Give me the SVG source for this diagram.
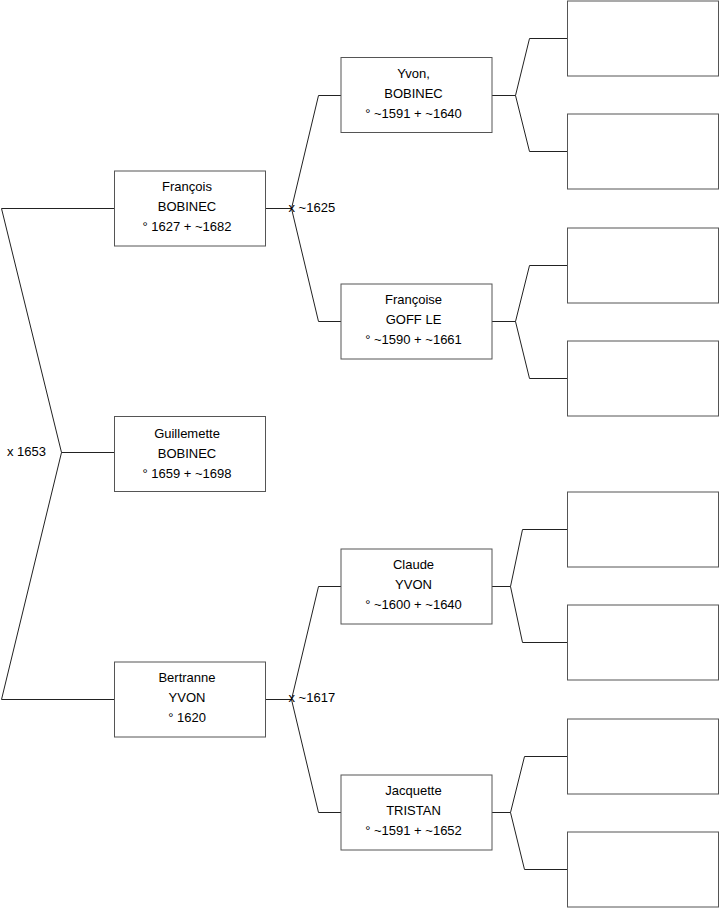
<svg xmlns="http://www.w3.org/2000/svg" width="719" height="908" viewBox="0 0 719 908">
<style>
.box{fill:#fff;stroke:#555;stroke-width:1}
.t{font-family:"Liberation Sans",Arial,sans-serif;font-size:13px;fill:#000;text-anchor:middle}
.l{font-family:"Liberation Sans",Arial,sans-serif;font-size:13px;fill:#000}
.c{fill:none;stroke:#222;stroke-width:1}
</style>
<rect width="719" height="908" fill="#fff"/>
<g id="connectors">
<polyline class="c" points="114,208.5 1.5,208.5 61.5,452.5 1.5,699.5 114,699.5"/>
<line class="c" x1="61.5" y1="452.5" x2="114" y2="452.5"/>
<polyline class="c" points="341,95.5 318.5,95.5 291.5,208.5 318.5,321.5 341,321.5"/>
<line class="c" x1="265.5" y1="208.5" x2="291.5" y2="208.5"/>
<polyline class="c" points="341,586.5 318.5,586.5 291.5,699.5 318.5,812.5 341,812.5"/>
<line class="c" x1="265.5" y1="699.5" x2="291.5" y2="699.5"/>
<polyline class="c" points="567,38.5 529.5,38.5 515.5,95.5 529.5,151.5 567,151.5"/>
<line class="c" x1="492" y1="95.5" x2="515.5" y2="95.5"/>
<polyline class="c" points="567,265.5 529.5,265.5 515.5,321.5 529.5,378.5 567,378.5"/>
<line class="c" x1="492" y1="321.5" x2="515.5" y2="321.5"/>
<polyline class="c" points="567,529.5 522.5,529.5 510.5,586.5 522.5,642.5 567,642.5"/>
<line class="c" x1="492" y1="586.5" x2="510.5" y2="586.5"/>
<polyline class="c" points="567,756.5 524.5,756.5 510.5,812.5 524.5,869.5 567,869.5"/>
<line class="c" x1="492" y1="812.5" x2="510.5" y2="812.5"/>
<text class="l" x="7" y="456">x 1653</text>
<text class="l" x="288.5" y="211.5">x ~1625</text>
<text class="l" x="288.5" y="702">x ~1617</text>
</g>
<g id="francois">
<rect class="box" x="114.5" y="171" width="151" height="75"/>
<text class="t" x="187" y="191">François</text>
<text class="t" x="187" y="211">BOBINEC</text>
<text class="t" x="187" y="231">° 1627 + ~1682</text>
</g>
<g id="guillemette">
<rect class="box" x="114.5" y="416.5" width="151" height="75"/>
<text class="t" x="187" y="437.5">Guillemette</text>
<text class="t" x="187" y="457.5">BOBINEC</text>
<text class="t" x="187" y="477.5">° 1659 + ~1698</text>
</g>
<g id="bertranne">
<rect class="box" x="114.5" y="662" width="151" height="75"/>
<text class="t" x="187" y="682">Bertranne</text>
<text class="t" x="187" y="702">YVON</text>
<text class="t" x="187" y="722">° 1620</text>
</g>
<g id="yvon">
<rect class="box" x="341" y="57.5" width="151" height="75"/>
<text class="t" x="413.5" y="78">Yvon,</text>
<text class="t" x="413.5" y="98">BOBINEC</text>
<text class="t" x="413.5" y="118">° ~1591 + ~1640</text>
</g>
<g id="francoise">
<rect class="box" x="341" y="284" width="151" height="75"/>
<text class="t" x="413.5" y="304">Françoise</text>
<text class="t" x="413.5" y="324">GOFF LE</text>
<text class="t" x="413.5" y="344">° ~1590 + ~1661</text>
</g>
<g id="claude">
<rect class="box" x="341" y="549" width="151" height="75"/>
<text class="t" x="413.5" y="569">Claude</text>
<text class="t" x="413.5" y="589">YVON</text>
<text class="t" x="413.5" y="609">° ~1600 + ~1640</text>
</g>
<g id="jacquette">
<rect class="box" x="341" y="775" width="151" height="75"/>
<text class="t" x="413.5" y="795">Jacquette</text>
<text class="t" x="413.5" y="815">TRISTAN</text>
<text class="t" x="413.5" y="835">° ~1591 + ~1652</text>
</g>
<g id="gen3-1"><rect class="box" x="567.5" y="1" width="151" height="75"/></g>
<g id="gen3-2"><rect class="box" x="567.5" y="114" width="151" height="75"/></g>
<g id="gen3-3"><rect class="box" x="567.5" y="228" width="151" height="75"/></g>
<g id="gen3-4"><rect class="box" x="567.5" y="341" width="151" height="75"/></g>
<g id="gen3-5"><rect class="box" x="567.5" y="492" width="151" height="75"/></g>
<g id="gen3-6"><rect class="box" x="567.5" y="605" width="151" height="75"/></g>
<g id="gen3-7"><rect class="box" x="567.5" y="719" width="151" height="75"/></g>
<g id="gen3-8"><rect class="box" x="567.5" y="832" width="151" height="75"/></g>
</svg>
